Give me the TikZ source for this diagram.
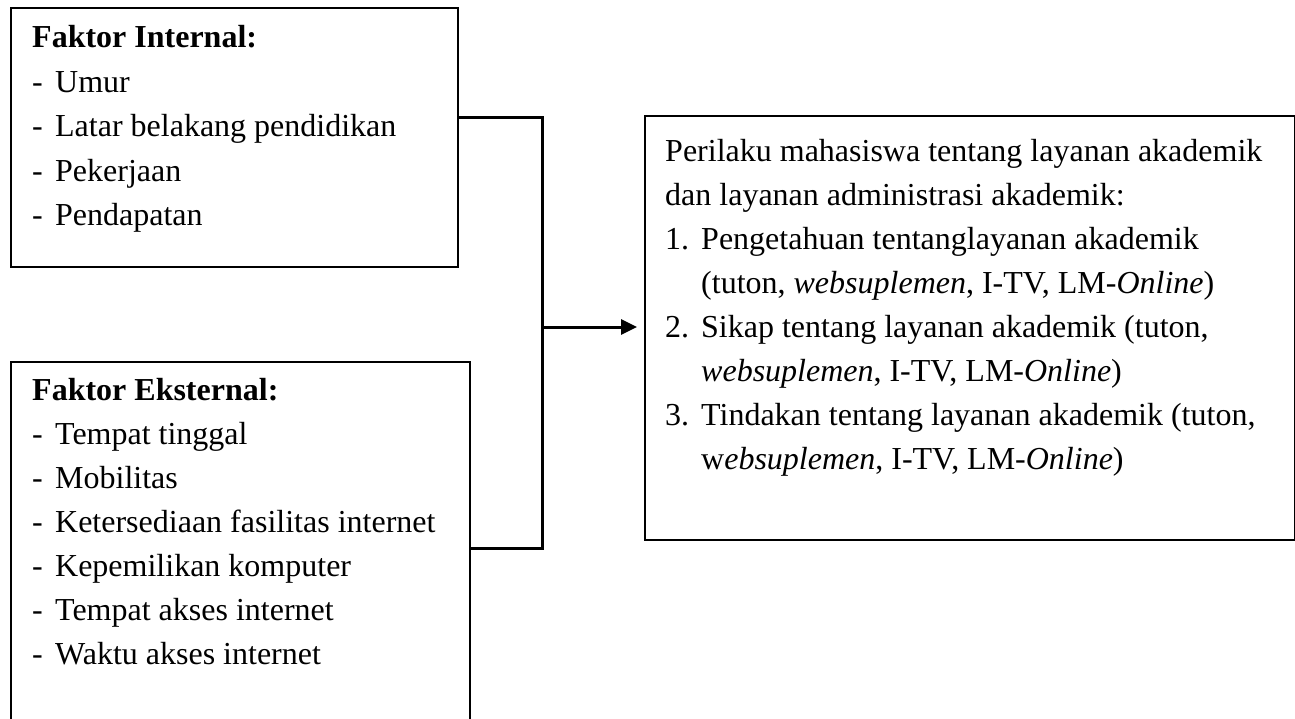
\documentclass[tikz,border=0pt]{standalone}
\usepackage{fontspec}
\setmainfont{Liberation Serif}
\usepackage{tikz}
\usetikzlibrary{positioning,arrows.meta}
\newcommand{\dashitem}[1]{\makebox[23pt][l]{-}#1}% hyphen + tab
\newcommand{\numitem}[1]{\makebox[36pt][l]{#1}}

\begin{document}
\begin{tikzpicture}[x=1pt,y=-1pt,
    every node/.style={inner sep=0pt},
    factorbox/.style={draw, line width=2pt, anchor=north west},
    boxtext/.style={anchor=north west, align=left, font=\fontsize{32}{#1}\selectfont},
    joinline/.style={line width=3pt},
    arrowline/.style={line width=3pt, -{Triangle[length=16pt,width=15pt]}, shorten >=7pt}]
  \useasboundingbox (0,0) rectangle (1295,719);
  \clip (0,0) rectangle (1295,719);

  % boxes
  \node[factorbox, minimum width=447pt, minimum height=259pt] (internal) at (10,7) {};
  \node[factorbox, minimum width=459pt, minimum height=400pt] (external) at (10,361) {};
  \node[factorbox, minimum width=650pt, minimum height=424pt] (perilaku) at (644,115) {};

  % texts
  \node[boxtext=44.5] (internaltext) at (32,25.5) {\textbf{Faktor Internal:}\\
    \dashitem{Umur}\\
    \dashitem{Latar belakang pendidikan}\\
    \dashitem{Pekerjaan}\\
    \dashitem{Pendapatan}};
  \node[boxtext=44] (externaltext) at (32,378.5) {\textbf{Faktor Eksternal:}\\
    \dashitem{Tempat tinggal}\\
    \dashitem{Mobilitas}\\
    \dashitem{Ketersediaan fasilitas internet}\\
    \dashitem{Kepemilikan komputer}\\
    \dashitem{Tempat akses internet}\\
    \dashitem{Waktu akses internet}};
  \node[boxtext=44] (perilakutext) at (665,139.5) {Perilaku mahasiswa tentang layanan akademik\\
    dan layanan administrasi akademik:\\
    \numitem{1.}Pengetahuan tentanglayanan akademik\\
    \hspace*{36pt}(tuton, \textit{websuplemen}, I-TV, LM-\textit{Online})\\
    \numitem{2.}Sikap tentang layanan akademik (tuton,\\
    \hspace*{36pt}\textit{websuplemen}, I-TV, LM-\textit{Online})\\
    \numitem{3.}Tindakan tentang layanan akademik (tuton,\\
    \hspace*{36pt}w\textit{ebsuplemen}, I-TV, LM-\textit{Online})};

  % connectors
  \coordinate (inend) at (internal.east |- 0,118);
  \coordinate (exend) at (external.east |- 0,548);
  \coordinate (hub) at (542,327);
  \draw[joinline] (inend) -| (hub) |- (exend);
  \draw[arrowline] (hub) -- (hub -| perilaku.west);
\end{tikzpicture}
\end{document}
